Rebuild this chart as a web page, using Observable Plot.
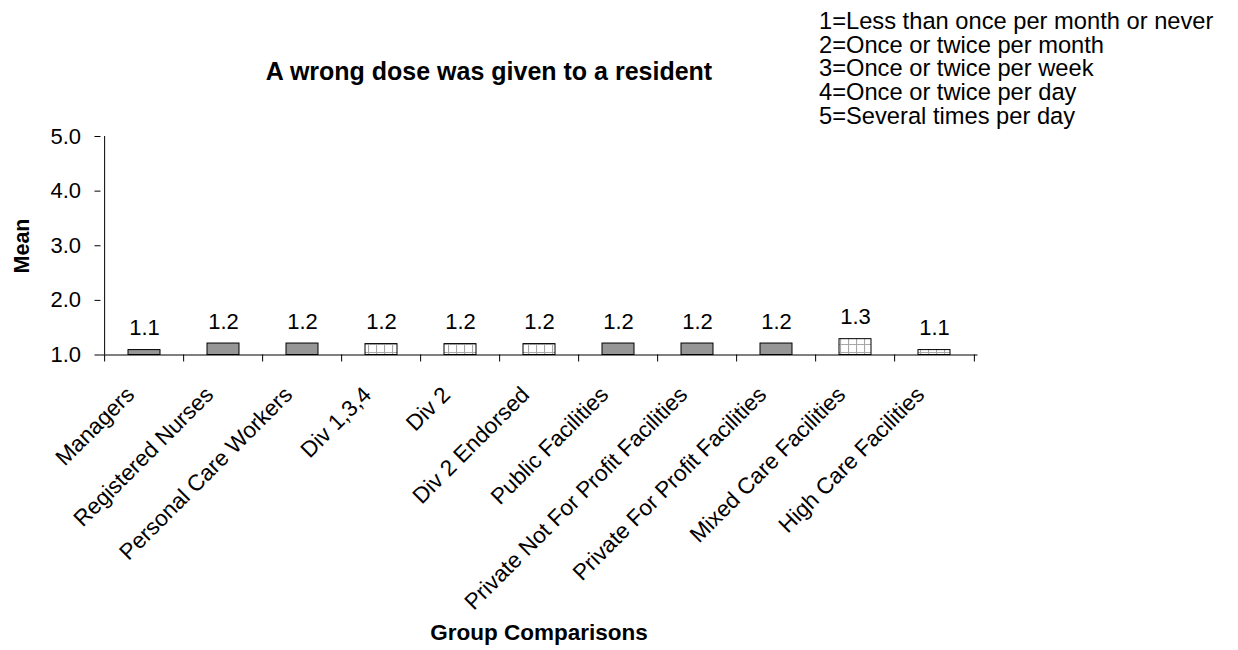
<!DOCTYPE html>
<html>
<head>
<meta charset="utf-8">
<script src="https://cdn.jsdelivr.net/npm/d3@7"></script>
<script src="https://cdn.jsdelivr.net/npm/@observablehq/plot@0.6"></script>
<style>
  html, body { margin: 0; padding: 0; background: #fff; }
  #wrap { position: relative; width: 1238px; height: 650px; font-family: "Liberation Sans", Arial, sans-serif; color: #000; }
  #wrap svg { position: absolute; left: 0; top: 0; }
  .title { position: absolute; left: 489px; top: 71px; transform: translate(-50%, -50%); font-weight: bold; font-size: 25px; white-space: nowrap; }
  .legend { position: absolute; left: 819px; top: 10px; font-size: 23.7px; line-height: 23.7px; white-space: nowrap; }
  .ylab { position: absolute; left: 22px; top: 246px; transform: translate(-50%, -50%) rotate(-90deg); font-weight: bold; font-size: 21.5px; white-space: nowrap; }
  .xlab { position: absolute; left: 539px; top: 633px; transform: translate(-50%, -50%); font-weight: bold; font-size: 22.5px; white-space: nowrap; }
</style>
</head>
<body>
<div id="wrap"></div>
<script>
const categories = ["Managers", "Registered Nurses", "Personal Care Workers", "Div 1,3,4", "Div 2", "Div 2 Endorsed", "Public Facilities", "Private Not For Profit Facilities", "Private For Profit Facilities", "Mixed Care Facilities", "High Care Facilities"];
const means = [1.09, 1.21, 1.21, 1.2, 1.2, 1.2, 1.21, 1.21, 1.21, 1.29, 1.09];
const patterned = [false, false, false, true, true, true, false, false, false, true, true];
const yTicks = [1, 2, 3, 4, 5];
const titleText = "A wrong dose was given to a resident";
const legendLines = ["1=Less than once per month or never", "2=Once or twice per month", "3=Once or twice per week", "4=Once or twice per day", "5=Several times per day"];
const yLabel = "Mean";
const xLabel = "Group Comparisons";

const data = categories.map((c, i) => ({category: c, mean: means[i], patterned: patterned[i]}));

const W = 1238, H = 650;
const mL = 100.5, mR = 1238 - 977.5, mT = 136, mB = 650 - 354.5;
const step = (W - mL - mR) / categories.length;
const unit = (H - mT - mB) / 4;
const tickLen = 7 / unit;

const chart = Plot.plot({
  width: W,
  height: H,
  marginLeft: mL,
  marginRight: mR,
  marginTop: mT,
  marginBottom: mB,
  style: {fontFamily: "Liberation Sans, Arial, sans-serif", background: "transparent", color: "#000"},
  x: {domain: categories, paddingInner: 0.593, paddingOuter: 0.2965},
  y: {domain: [1, 5]},
  marks: [
    Plot.barY(data, {
      x: "category", y1: 1, y2: "mean",
      fill: d => d.patterned ? "url(#gridpat)" : "#969696",
      stroke: "#000", strokeWidth: 1
    }),
    Plot.text(data, {
      x: "category", y: "mean", text: d => d3.format(".1f")(d.mean),
      dy: -22, fontSize: 22, fill: "#000", lineAnchor: "middle"
    }),
    Plot.ruleY([1], {stroke: "#000", strokeWidth: 1}),
    Plot.ruleX([categories[0]], {x: d => d, y1: 1, y2: 5, dx: -step / 2, stroke: "#000", strokeWidth: 1}),
    Plot.ruleX(categories, {x: d => d, y1: 1, y2: 1 - tickLen, dx: -step / 2, stroke: "#000", strokeWidth: 1, clip: false}),
    Plot.ruleX([categories[categories.length - 1]], {x: d => d, y1: 1, y2: 1 - tickLen, dx: step / 2, stroke: "#000", strokeWidth: 1, clip: false}),
    Plot.axisY({ticks: yTicks, tickFormat: d3.format(".1f"), tickSize: 6, tickPadding: 14, fontSize: 22, label: null, stroke: "#000"}),
    Plot.axisX({tickRotate: -45, tickSize: 0, tickPadding: 16, dx: -14, dy: 20, fontSize: 22.5, label: null})
  ]
});

chart.insertAdjacentHTML("afterbegin",
  '<defs><pattern id="gridpat" patternUnits="userSpaceOnUse" width="8" height="8">' +
  '<rect width="8" height="8" fill="#fff"/>' +
  '<path d="M0 0.5H8M0.5 0V8" stroke="#a8a8a8" stroke-width="1.2"/>' +
  '</pattern></defs>');

const wrap = document.getElementById("wrap");
wrap.appendChild(chart);

const t = document.createElement("div"); t.className = "title"; t.textContent = titleText; wrap.appendChild(t);
const lg = document.createElement("div"); lg.className = "legend"; lg.innerHTML = legendLines.map(s => `<div>${s}</div>`).join(""); wrap.appendChild(lg);
const yl = document.createElement("div"); yl.className = "ylab"; yl.textContent = yLabel; wrap.appendChild(yl);
const xl = document.createElement("div"); xl.className = "xlab"; xl.textContent = xLabel; wrap.appendChild(xl);
</script>
</body>
</html>
